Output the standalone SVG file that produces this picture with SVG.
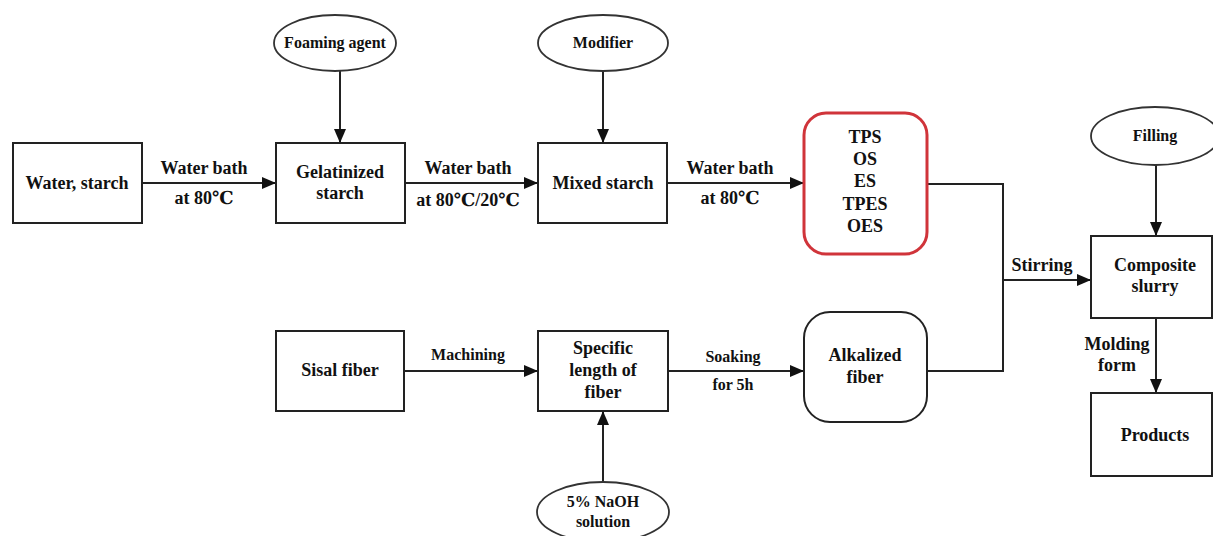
<svg xmlns="http://www.w3.org/2000/svg" width="1213" height="536" viewBox="0 0 1213 536" font-family="Liberation Serif, Times New Roman, DejaVu Serif, serif">
<defs>
<marker id="ah" markerWidth="14" markerHeight="12" refX="14" refY="6" orient="auto" markerUnits="userSpaceOnUse">
<path d="M0,0 L14,6 L0,12 Z" fill="#111"/>
</marker>
<style>
.box{fill:#fff;stroke:#222;stroke-width:2}
.red{fill:#fff;stroke:#d0343a;stroke-width:3}
.ell{fill:#fff;stroke:#333;stroke-width:1.8}
.c{fill:none;stroke:#222;stroke-width:2}
.a{fill:none;stroke:#222;stroke-width:2;marker-end:url(#ah)}
text{font-family:'Liberation Serif','Times New Roman','DejaVu Serif',serif;font-weight:bold;fill:#111;text-anchor:middle}
.t{font-size:18px}
.s{font-size:16px}
</style>
</defs>
<rect width="1213" height="536" fill="#fff"/>
<g id="connectors">
<line class="a" x1="142" y1="183" x2="276" y2="183"/>
<line class="a" x1="340" y1="71" x2="340" y2="143"/>
<line class="a" x1="405" y1="183" x2="538" y2="183"/>
<line class="a" x1="603" y1="71" x2="603" y2="143"/>
<line class="a" x1="667" y1="183" x2="804" y2="183"/>
<polyline class="c" points="927,184 1003,184 1003,371 927,371"/>
<line class="a" x1="1003" y1="280" x2="1091" y2="280"/>
<line class="a" x1="1156" y1="165" x2="1156" y2="236"/>
<line class="a" x1="1156" y1="318" x2="1156" y2="393"/>
<line class="a" x1="404" y1="371" x2="538" y2="371"/>
<line class="a" x1="603" y1="482" x2="603" y2="411"/>
<line class="a" x1="668" y1="371" x2="804" y2="371"/>
<text class="t" x="204" y="174">Water bath</text>
<text class="t" x="204" y="204">at 80℃</text>
<text class="t" x="468" y="174">Water bath</text>
<text class="t" x="468" y="206">at 80℃/20℃</text>
<text class="t" x="730" y="174">Water bath</text>
<text class="t" x="730" y="204">at 80℃</text>
<text class="t" x="1042" y="271">Stirring</text>
<text class="t" x="1117" y="350">Molding</text>
<text class="t" x="1117" y="371">form</text>
<text class="s" x="468" y="360">Machining</text>
<text class="s" x="733" y="362">Soaking</text>
<text class="s" x="733" y="390">for 5h</text>
</g>
<g id="water-starch"><rect class="box" x="13" y="143" width="129" height="80"/><text class="t" x="77" y="189">Water, starch</text></g>
<g id="gelatinized-starch"><rect class="box" x="276" y="143" width="129" height="80"/><text class="t" x="340" y="178">Gelatinized</text><text class="t" x="340" y="199">starch</text></g>
<g id="foaming-agent"><ellipse class="ell" cx="335" cy="43" rx="61" ry="28"/><text class="s" x="335" y="48">Foaming agent</text></g>
<g id="mixed-starch"><rect class="box" x="538" y="143" width="129" height="80"/><text class="t" x="603" y="189">Mixed starch</text></g>
<g id="modifier"><ellipse class="ell" cx="603" cy="43" rx="65" ry="28"/><text class="s" x="603" y="48">Modifier</text></g>
<g id="starch-types"><rect class="red" x="804" y="113" width="123" height="141" rx="22"/>
<text class="t" x="865" y="143">TPS</text><text class="t" x="865" y="165">OS</text><text class="t" x="865" y="187">ES</text><text class="t" x="865" y="210">TPES</text><text class="t" x="865" y="232">OES</text></g>
<g id="filling"><ellipse class="ell" cx="1155" cy="136" rx="64" ry="29"/><text class="s" x="1155" y="141">Filling</text></g>
<g id="composite-slurry"><rect class="box" x="1091" y="236" width="121" height="82"/><text class="t" x="1155" y="271">Composite</text><text class="t" x="1155" y="292">slurry</text></g>
<g id="products"><rect class="box" x="1091" y="393" width="121" height="83"/><text class="t" x="1155" y="441">Products</text></g>
<g id="sisal-fiber"><rect class="box" x="276" y="331" width="128" height="80"/><text class="t" x="340" y="376">Sisal fiber</text></g>
<g id="specific-length"><rect class="box" x="538" y="331" width="130" height="80"/><text class="t" x="603" y="354">Specific</text><text class="t" x="603" y="376">length of</text><text class="t" x="603" y="398">fiber</text></g>
<g id="naoh"><ellipse class="ell" cx="603" cy="512" rx="66" ry="30"/><text class="s" x="603" y="507">5% NaOH</text><text class="s" x="603" y="527">solution</text></g>
<g id="alkalized-fiber"><rect class="box" x="804" y="312" width="123" height="110" rx="26"/><text class="t" x="865" y="361">Alkalized</text><text class="t" x="865" y="383">fiber</text></g>
</svg>
